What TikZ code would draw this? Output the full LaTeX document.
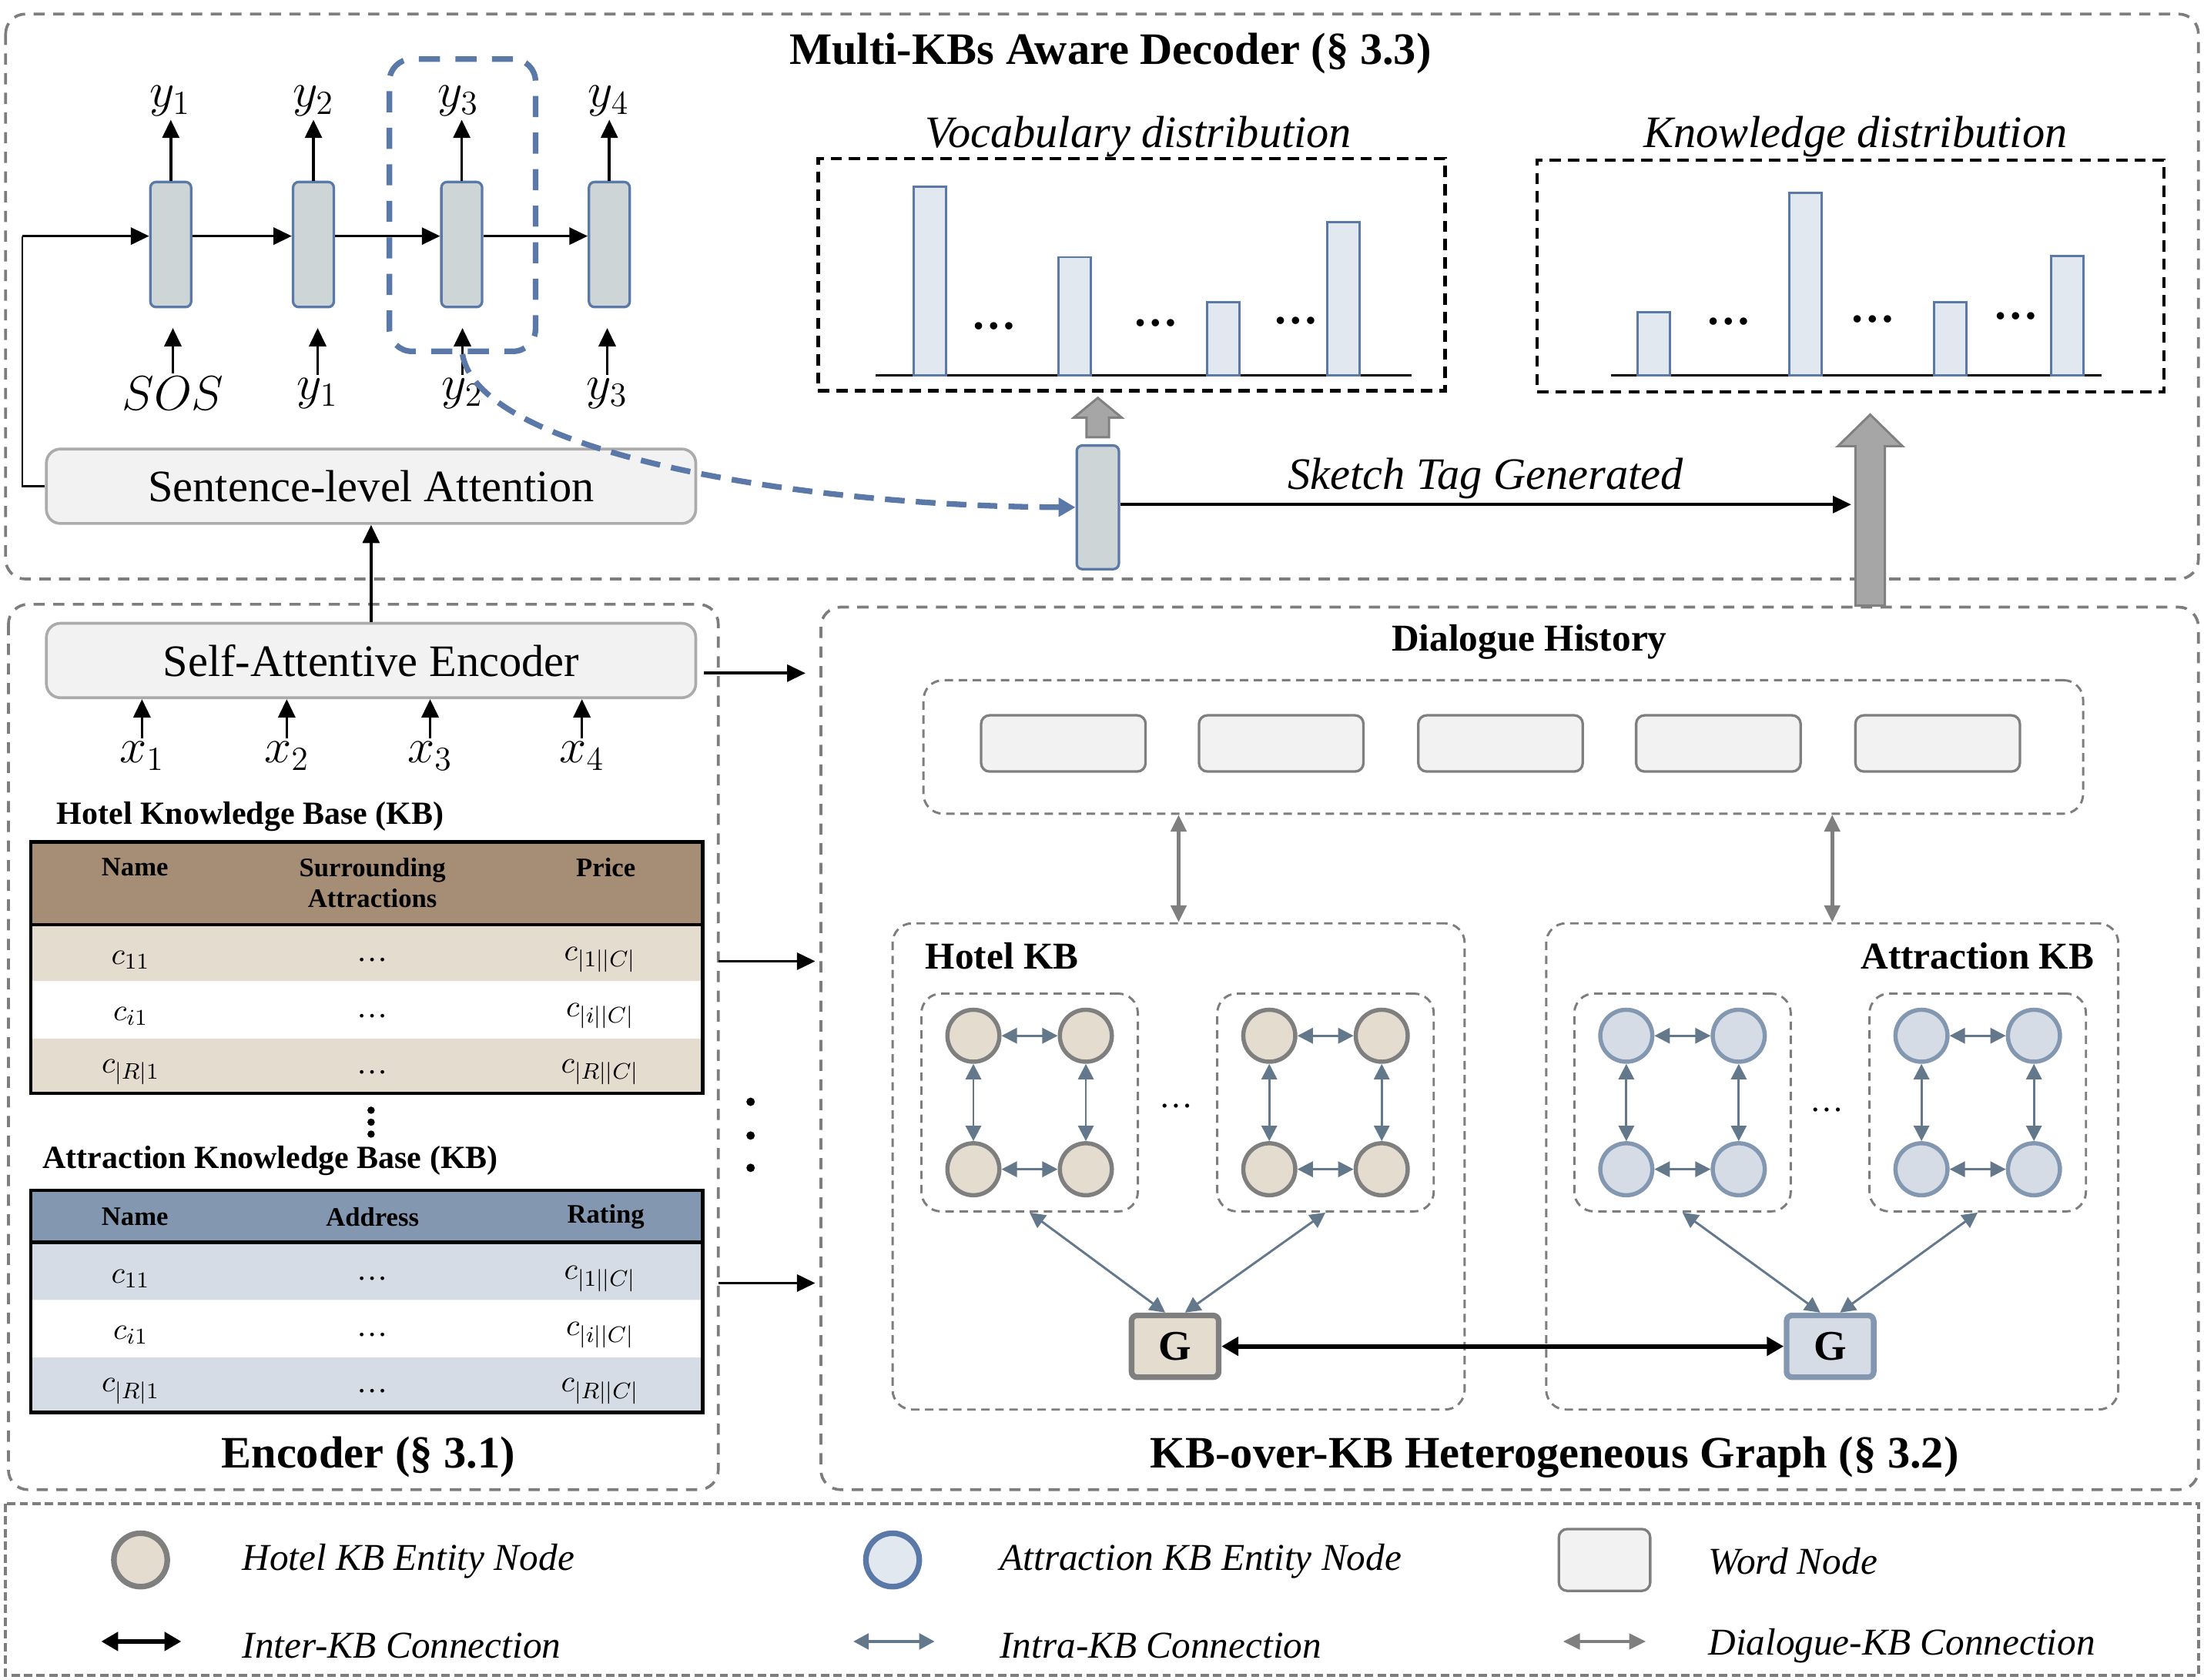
\documentclass[tikz,border=0pt]{standalone}
\usepackage{fontspec}
\setmainfont{Liberation Serif}
\usetikzlibrary{arrows.meta,calc}

\definecolor{cellfill}{RGB}{205,213,214}
\definecolor{blueline}{RGB}{91,121,168}
\definecolor{barfill}{RGB}{225,232,240}
\definecolor{hotelhead}{RGB}{166,142,118}
\definecolor{hotelrow}{RGB}{228,220,207}
\definecolor{attrhead}{RGB}{132,151,176}
\definecolor{attrrow}{RGB}{214,220,229}
\definecolor{attrline}{RGB}{132,151,176}
\definecolor{hotelline}{RGB}{127,127,127}
\definecolor{framegray}{RGB}{125,125,125}
\definecolor{wordfill}{RGB}{242,242,242}
\definecolor{wordline}{RGB}{127,127,127}
\definecolor{intracol}{RGB}{100,120,140}
\definecolor{blockfill}{RGB}{166,166,166}
\definecolor{blockline}{RGB}{128,128,128}

\tikzset{
  frame/.style={draw=framegray, line width=1pt, dash pattern=on 4pt off 3pt, rounded corners=7pt},
  subframe/.style={draw=framegray, line width=0.8pt, dash pattern=on 3pt off 2pt, rounded corners=7pt},
  cell/.style={draw=blueline, fill=cellfill, line width=0.9pt, rounded corners=2pt, minimum width=14.5pt, minimum height=44.5pt, inner sep=0pt},
  wide/.style={draw=black!33, fill=wordfill, line width=1pt, rounded corners=5pt, minimum width=231pt, minimum height=26.5pt, font=\fontsize{16}{18}\selectfont},
  word/.style={draw=wordline, fill=wordfill, line width=0.9pt, rounded corners=3pt, minimum width=58.5pt, minimum height=20pt},
  ent/.style={circle, line width=1.5pt, minimum size=18.5pt, inner sep=0pt},
  gnode/.style={rounded corners=2pt, line width=2pt, minimum width=31pt, minimum height=22pt, font=\fontsize{15}{15}\selectfont\bfseries},
  bar/.style={draw=blueline, fill=barfill, line width=0.8pt},
  dist/.style={draw=black, line width=1.2pt, dash pattern=on 4pt off 2.5pt, minimum width=223pt, minimum height=82.5pt},
  arr/.style={-{Triangle[length=6.5pt,width=6pt]}, line width=1pt},
  intra/.style={{Triangle[length=5.5pt,width=5.5pt]}-{Triangle[length=5.5pt,width=5.5pt]}, draw=intracol, line width=0.8pt},
  inter/.style={{Triangle[length=6pt,width=6.5pt]}-{Triangle[length=6pt,width=6.5pt]}, line width=1.7pt},
  dkb/.style={{Triangle[length=6pt,width=5.5pt]}-{Triangle[length=6pt,width=5.5pt]}, draw=wordline, line width=1.3pt},
  block/.style={fill=blockfill, draw=blockline, line width=0.8pt},
  mth/.style={font=\fontsize{18}{20}\selectfont, inner sep=1pt},
  ttl/.style={font=\fontsize{16}{18}\selectfont\bfseries},
  itl/.style={font=\fontsize{16}{18}\selectfont\itshape},
  lgd/.style={font=\fontsize{13.5}{16}\selectfont\itshape, anchor=west, inner sep=0pt},
  kbl/.style={font=\fontsize{13.5}{15}\selectfont\bfseries},
  tabtitle/.style={font=\fontsize{11.5}{13}\selectfont\bfseries, anchor=west, inner sep=0pt},
  thead/.style={font=\fontsize{9.5}{11}\selectfont\bfseries, align=center},
  tcell/.style={font=\fontsize{11}{12}\selectfont},
}

\begin{document}
\begin{tikzpicture}[x=0.5pt, y=-0.5pt]
\useasboundingbox (0,0) rectangle (1568,1195);

% outer frames
\draw[frame] (4,10) rectangle (1564,412);
\draw[frame] (6,430) rectangle (511,1060);
\draw[frame] (584,432) rectangle (1564,1060);
\draw[draw=framegray, line width=1pt, dash pattern=on 3pt off 1.5pt] (4,1070) rectangle (1564,1192);

% decoder
\node[ttl] (dectitle) at (790,38) {Multi-KBs Aware Decoder (§ 3.3)};
\foreach \i/\x in {1/121.5,2/223,3/328.5,4/433.5}
  \node[cell] (dc\i) at (\x,174) {};
\foreach \i/\x in {1/121,2/223,3/326,4/433}
  \node[mth] (yo\i) at (\x,72) {$y_\i$};
\foreach \i/\x/\t in {1/123/{\fontsize{16}{16}\selectfont$SOS$},2/226/$y_1$,3/329/$y_2$,4/432/$y_3$}
  \node[mth] (yi\i) at (\x,280) {\t};
\foreach \i in {1,...,4}{
  \draw[arr] (dc\i.north) -- (dc\i.north |- yo\i.south);
  \draw[arr, shorten >=7pt] (yi\i.north) -- (yi\i.north |- dc\i.south);
}
\coordinate (chain) at (16,168);
\draw[arr] (chain) -- (dc1.west |- chain);
\draw[arr] (dc1.east |- chain) -- (dc2.west |- chain);
\draw[arr] (dc2.east |- chain) -- (dc3.west |- chain);
\draw[arr] (dc3.east |- chain) -- (dc4.west |- chain);

\node[wide] (sla) at (264,346) {Sentence-level Attention};
\draw[line width=0.6pt] (sla.west) -| (chain);

\node[draw=blueline, line width=2pt, dash pattern=on 7.5pt off 5.5pt, rounded corners=8pt, minimum width=52pt, minimum height=104pt] (focus) at (329,146) {};

% distributions
\node[dist] (vocab) at (805,195.5) {};
\node[itl] (vocabtitle) at (810,97) {Vocabulary distribution};
\draw[line width=0.8pt] (623,267) -- (1004,267);
\foreach \a/\t in {650/133,753/183,859/215,944/158}
  \draw[bar] (\a,267) rectangle (\a+23,\t);
\foreach \x/\y [count=\k] in {707/232,822/230,922/228}
  \node[font=\fontsize{16}{16}\selectfont\bfseries] (vdots\k) at (\x,\y) {\ldots};

\node[dist] (know) at (1316.5,196.5) {};
\node[itl] (knowtitle) at (1320,97) {Knowledge distribution};
\draw[line width=0.8pt] (1146,267) -- (1495,267);
\foreach \a/\t in {1165/222,1273/137,1376/215,1459/182}
  \draw[bar] (\a,267) rectangle (\a+23,\t);
\foreach \x/\y [count=\k] in {1230/229,1332/227,1434/225}
  \node[font=\fontsize{16}{16}\selectfont\bfseries] (kdots\k) at (\x,\y) {\ldots};

% sketch cell
\node[cell, minimum width=15pt, minimum height=44pt] (sc) at (781,361) {};
\draw[blueline, line width=2pt, dash pattern=on 7pt off 4pt, -{Triangle[length=6pt,width=6.5pt]}]
  (focus.south) .. controls (340,320) and (560,360) .. (sc.west);
\draw[block] ([yshift=2.5pt]sc.north) ++(-8,0) -- ++(0,-14) -- ++(-9,0) -- ++(17,-14)
  -- ++(17,14) -- ++(-9,0) -- ++(0,14) -- cycle;
\coordinate (tagend) at (1317,359);
\draw[arr] (sc.east |- tagend) -- (tagend)
  node[midway, above, itl, inner sep=1.5pt] (tag) {Sketch Tag Generated};
\coordinate (gtop) at (1330.5,431);
\draw[block] (gtop) ++(-10.5,0) -- ++(0,-113.5) -- ++(-12.5,0) -- ++(23,-22.5)
  -- ++(23,22.5) -- ++(-12.5,0) -- ++(0,113.5) -- cycle;

% encoder
\node[wide] (sae) at (264,470) {Self-Attentive Encoder};
\draw[arr] (sae) -- (sla);
\foreach \i/\x in {1/101,2/204,3/306,4/414}{
  \node[mth] (xi\i) at (\x,538) {$x_\i$};
  \draw[arr] (xi\i.north) -- (xi\i.north |- sae.south);
}

% hotel table
\node[tabtitle] (htitle) at (40,581) {Hotel Knowledge Base (KB)};
\fill[hotelhead] (22,599) rectangle (500,658);
\fill[hotelrow] (22,658) rectangle (500,698) (22,739) rectangle (500,778);
\draw[line width=1.2pt] (22,658) -- (500,658);
\node[draw, line width=1.2pt, minimum width=239pt, minimum height=89.5pt, inner sep=0pt] (htab) at (261,688.5) {};
\node[thead] (hh1) at (96,617) {Name};
\node[thead] (hh2) at (265,628) {Surrounding\\Attractions};
\node[thead] (hh3) at (431,617) {Price};
\foreach \a/\b/\y [count=\k] in {11/{|1||C|}/683,{i1}/{|i||C|}/723,{|R|1}/{|R||C|}/763}{
  \node[tcell] (hc\k a) at (93,\y) {$c_{\a}$};
  \node[tcell] (hc\k b) at (265,\y) {\ldots};
  \node[tcell] (hc\k c) at (427,\y) {$c_{\b}$};
}
\foreach \y in {790,798.5,807}
  \fill (264,\y) circle (1.3pt);

% attraction table
\node[tabtitle] (atitle) at (30,826) {Attraction Knowledge Base (KB)};
\fill[attrhead] (22,847) rectangle (500,884);
\fill[attrrow] (22,884) rectangle (500,925) (22,966) rectangle (500,1005);
\draw[line width=1.2pt] (22,884) -- (500,884);
\node[draw, line width=1.2pt, minimum width=239pt, minimum height=79pt, inner sep=0pt] (atab) at (261,926) {};
\node[thead] (ah1) at (96,866) {Name};
\node[thead] (ah2) at (265,866) {Address};
\node[thead] (ah3) at (431,866) {Rating};
\foreach \a/\b/\y [count=\k] in {11/{|1||C|}/910,{i1}/{|i||C|}/950,{|R|1}/{|R||C|}/990}{
  \node[tcell] (ac\k a) at (93,\y) {$c_{\a}$};
  \node[tcell] (ac\k b) at (265,\y) {\ldots};
  \node[tcell] (ac\k c) at (427,\y) {$c_{\b}$};
}
\node[ttl] (enctitle) at (262,1037) {Encoder (§ 3.1)};

% into the graph
\coordinate (gin1) at (573,479);
\coordinate (gin2) at (580,684);
\coordinate (gin3) at (580,913);
\draw[arr] ([xshift=2.5pt]sae.east |- gin1) -- (gin1);
\draw[arr] ([xshift=5pt]htab.east |- gin2) -- (gin2);
\draw[arr] ([xshift=5pt]atab.east |- gin3) -- (gin3);
\foreach \y in {784,808,831}
  \fill (534,\y) circle (1.5pt);

% graph
\node[kbl] (dhtitle) at (1088,457) {Dialogue History};
\node[subframe, minimum width=412.5pt, minimum height=47.5pt] (dh) at (1069.5,531.5) {};
\foreach \x [count=\k] in {756.5,911.5,1067.5,1222.5,1378.5}
  \node[word] (w\k) at (\x,529) {};

\node[subframe, minimum width=203.5pt, minimum height=173pt] (hkb) at (838.5,830) {};
\node[subframe, minimum width=203.5pt, minimum height=173pt] (akb) at (1303.5,830) {};
\node[kbl, anchor=west, inner sep=0pt] (hkbl) at (658,680) {Hotel KB};
\node[kbl, anchor=east, inner sep=0pt] (akbl) at (1490,680) {Attraction KB};
\draw[dkb] (dh.south -| hkb.north) -- (hkb.north);
\draw[dkb] (dh.south -| akb.north) -- (akb.north);

\foreach \g/\cx/\ln/\fl in {h1/732.5/hotelline/hotelrow,h2/943/hotelline/hotelrow,
                            a1/1197/attrline/attrrow,a2/1407/attrline/attrrow}{
  \node[subframe, minimum width=77pt, minimum height=77.5pt] (\g) at (\cx,784.5) {};
  \node[ent, draw=\ln, fill=\fl] (\g-1) at (\cx-40,737) {};
  \node[ent, draw=\ln, fill=\fl] (\g-2) at (\cx+40,737) {};
  \node[ent, draw=\ln, fill=\fl] (\g-3) at (\cx-40,832) {};
  \node[ent, draw=\ln, fill=\fl] (\g-4) at (\cx+40,832) {};
  \draw[intra] (\g-1) -- (\g-2);
  \draw[intra] (\g-3) -- (\g-4);
  \draw[intra] (\g-1) -- (\g-3);
  \draw[intra] (\g-2) -- (\g-4);
}
\node[font=\fontsize{12}{12}\selectfont] (hdots) at (837,787) {\ldots};
\node[font=\fontsize{12}{12}\selectfont] (adots) at (1300,790) {\ldots};

\node[gnode, draw=hotelline, fill=hotelrow] (hg) at (836,958) {G};
\node[gnode, draw=attrline, fill=attrrow] (ag) at (1302,958) {G};
\draw[intra] ([xshift=-3.5pt]hg.north) -- (h1.south);
\draw[intra] ([xshift=3.5pt]hg.north) -- (h2.south);
\draw[intra] ([xshift=-3.5pt]ag.north) -- (a1.south);
\draw[intra] ([xshift=3.5pt]ag.north) -- (a2.south);
\draw[inter] (hg) -- (ag);
\node[ttl] (gtitle) at (1106,1037) {KB-over-KB Heterogeneous Graph (§ 3.2)};

% legend
\node[ent, draw=hotelline, fill=hotelrow, line width=2pt, minimum size=19pt] (lg1) at (100,1110) {};
\node[lgd] (lt1) at (172,1111) {Hotel KB Entity Node};
\node[ent, draw=blueline, fill=barfill, line width=2pt, minimum size=19pt] (lg2) at (635,1110) {};
\node[lgd] (lt2) at (711,1111) {Attraction KB Entity Node};
\node[word, minimum width=32.5pt, minimum height=22pt] (lg3) at (1141.5,1110) {};
\node[lgd] (lt3) at (1215,1111) {Word Node};
\coordinate (la1) at (72,1168);   \coordinate (lb1) at (129,1168);
\coordinate (la2) at (607,1168);  \coordinate (lb2) at (665,1168);
\coordinate (la3) at (1112,1168); \coordinate (lb3) at (1171,1168);
\draw[inter] (la1) -- (lb1);
\draw[intra, line width=1.3pt] (la2) -- (lb2);
\draw[dkb] (la3) -- (lb3);
\node[lgd] (lt4) at (172,1171) {Inter-KB Connection};
\node[lgd] (lt5) at (711,1171) {Intra-KB Connection};
\node[lgd] (lt6) at (1215,1171) {Dialogue-KB Connection};
\end{tikzpicture}
\end{document}
